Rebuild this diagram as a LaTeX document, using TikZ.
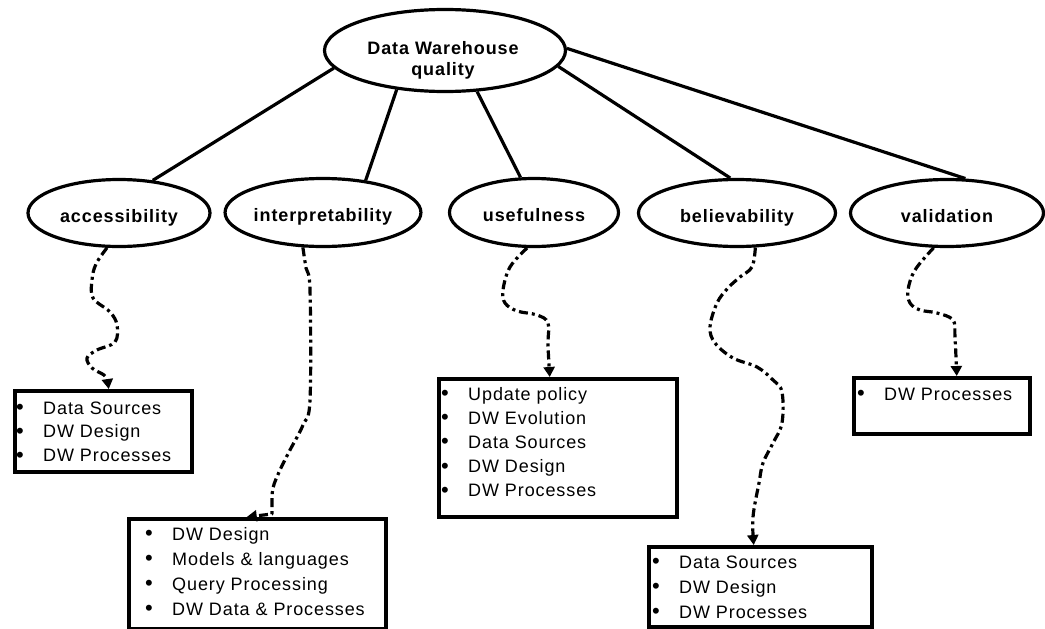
\documentclass[tikz,border=0pt]{standalone}
\usepackage{fontspec}
\setmainfont[LetterSpace=5]{Liberation Sans}
\usetikzlibrary{shapes.geometric,arrows.meta}
\tikzset{
  ell/.style={ellipse,draw,line width=3.2pt,inner sep=0pt,
    font=\fontsize{18}{21}\selectfont\bfseries,text height=18pt,text depth=0pt},
  ttl/.style={inner sep=0pt,align=center,font=\fontsize{18}{21}\selectfont\bfseries},
  box/.style={rectangle,draw,line width=3.5pt,inner sep=0pt,anchor=north west},
  itm/.style={anchor=base west,inner sep=0pt,font=\fontsize{18}{21}\selectfont},
  link/.style={line width=3.2pt},
  dep/.style={line width=3.2pt,line join=round,dash pattern=on 9pt off 4pt on 3pt off 4pt,
    -{Triangle[length=10pt,width=11pt]}},
}
\newcommand{\bul}[1]{\makebox[27pt][l]{\raisebox{-0.5pt}{\fontsize{22}{22}\selectfont\textbullet}}#1}
\begin{document}
\begin{tikzpicture}[x=1pt,y=-1pt]
\useasboundingbox (0,0) rectangle (1045,629);

% ellipses
\node[ell,minimum width=241pt,minimum height=82pt] (dwq) at (445,50.5) {};
\node[ttl] (dwqt) at (443,60) {Data Warehouse\\quality};
\node[ell,minimum width=182pt,minimum height=67pt] (acc) at (119,213) {accessibility};
\node[ell,minimum width=194pt,minimum height=68pt] (interp) at (323,212.5) {interpretability};
\node[ell,minimum width=169pt,minimum height=68pt] (useful) at (534,212.5) {usefulness};
\node[ell,minimum width=197pt,minimum height=67pt] (believ) at (737,213) {believability};
\node[ell,minimum width=193pt,minimum height=67pt] (valid) at (947,213) {validation};

% links
\draw[link] (dwq.189) -- (acc.44);
\draw[link] (dwq.219) -- (interp.37);
\draw[link] (dwq.308) -- (useful.111);
\draw[link] (dwq.352) -- (believ.101);
\draw[link] (dwq.1) -- (valid.62);

% boxes
\node[box,minimum width=177pt,minimum height=81pt] (b1) at (13,389) {};
\node[box,minimum width=257pt,minimum height=110pt] (b2) at (127,517) {};
\node[box,minimum width=238pt,minimum height=138pt] (b3) at (437,377) {};
\node[box,minimum width=223pt,minimum height=80pt] (b4) at (647,545) {};
\node[box,minimum width=176pt,minimum height=56pt] (b5) at (852,376) {};

% box texts
\foreach \t [count=\i] in {Data Sources,DW Design,DW Processes}
  \node[itm] (b1-\i) at ([xshift=3pt,yshift={-(\i*23.8+1.2)*1pt}]b1.north west) {\bul{\t}};
\foreach \t [count=\i] in {DW Design,Models \& languages,Query Processing,DW Data \& Processes}
  \node[itm] (b2-\i) at ([xshift=18pt,yshift={-(\i*25-2)*1pt}]b2.north west) {\bul{\t}};
\foreach \t [count=\i] in {Update policy,DW Evolution,Data Sources,DW Design,DW Processes}
  \node[itm] (b3-\i) at ([xshift=4pt,yshift={-(\i*24.2-1.2)*1pt}]b3.north west) {\bul{\t}};
\foreach \t [count=\i] in {Data Sources,DW Design,DW Processes}
  \node[itm] (b4-\i) at ([xshift=5pt,yshift={-(\i*25-2)*1pt}]b4.north west) {\bul{\t}};
\node[itm] (b5-1) at ([xshift=5pt,yshift=-24pt]b5.north west) {\bul{DW Processes}};

% dependency arrows
\draw[dep] plot[smooth,tension=0.6] coordinates {(acc.251) (96,264) (92,280) (93,298) (110,312) (117,325) (115,342) (97,350) (87,358) (92,368) (104,375) (107,380) ([xshift=5.5pt]b1.north)};
\draw[dep] plot[smooth,tension=0.6] coordinates {(interp.240) (306,268) (310,290) (310,400) (303,425) (290,450) (280,470) (273,488) (272,505) (272,514)} -- ([xshift=-10.5pt]b2.north);
\draw[dep] plot[smooth,tension=0.6] coordinates {(useful.259) (510,267) (503,290) (505,303) (517,311) (537,315) (548,323) (548,345) ([xshift=-8pt]b3.north)};
\draw[dep] plot[smooth,tension=0.6] coordinates {(believ.298) (752,267) (740,277) (728,288) (717,303) (710,327) (715,343) (733,358) (757,367) (773,380) (782,392) (782,423) (773,443) (763,463) (759,483) (753,517) ([xshift=-6.5pt]b4.north)};
\draw[dep] plot[smooth,tension=0.6] coordinates {(valid.249) (915,270) (908,290) (910,303) (920,310) (937,313) (953,320) (955,337) ([xshift=15pt]b5.north)};
\end{tikzpicture}
\end{document}
